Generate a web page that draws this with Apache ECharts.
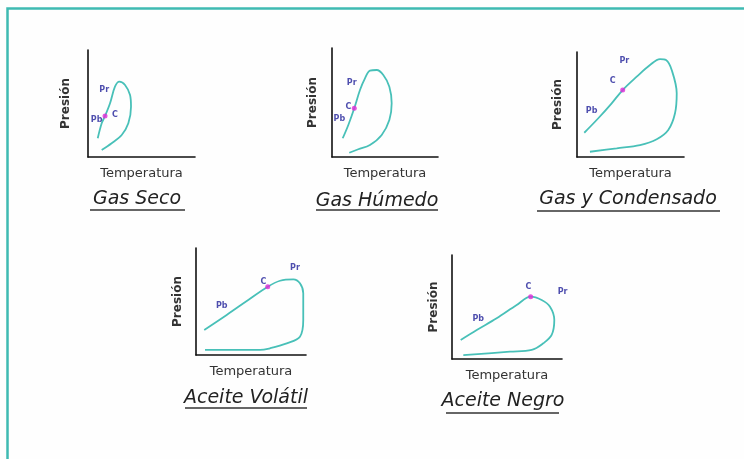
<!DOCTYPE html>
<html><head><meta charset="utf-8">
<script src="https://cdn.jsdelivr.net/npm/echarts@6/dist/echarts.min.js"></script>
<style>html,body{margin:0;padding:0;background:#fefefe}#c{width:744px;height:459px}</style>
</head><body><div id="c"></div>
<script>
// ---- data (envelope curves in 0-100 temperature / pressure units) ----
const gasSecoCurve = [[9.1,17.5],[12.8,31.5],[15.9,38.3],[20.6,50.2],[25.2,65.7],[29.3,70.4],[34.6,67.3],[39.3,57.9],[40.2,47.0],[37.7,31.5],[31.5,20.6],[22.1,12.8],[12.8,6.5]];
const gasSecoC = [15.9,38.3];
const gasSecoLabels = [['Pr',15.2,62.6],['Pb',8.1,34.6],['C',25.2,39.3]];

const gasHumedoCurve = [[10.1,17.2],[15.4,29.4],[21.0,44.7],[26.4,61.5],[31.1,72.2],[35.8,79.2],[42.2,79.8],[48.4,75.2],[54.1,64.5],[56.3,49.3],[54.1,33.9],[46.9,20.2],[35.8,11.0],[24.8,7.1],[16.3,3.9]];
const gasHumedoC = [21.0,44.7];
const gasHumedoLabels = [['Pr',18.6,67.6],['C',15.4,46.1],['Pb',6.9,34.6]];

const gasCondCurve = [[6.8,23.1],[19.9,36.9],[32.4,51.1],[42.7,63.8],[55.8,76.5],[68.2,87.6],[77.6,93.3],[83.2,92.4],[88.5,82.9],[93.2,60.7],[91.6,41.6],[85.3,25.7],[74.5,16.9],[58.9,11.4],[37.1,8.3],[12.1,5.0]];
const gasCondC = [42.7,63.8];
const gasCondLabels = [['Pr',44.2,91.7],['C',33.4,72.7],['Pb',13.7,43.8]];

const aceiteVolCurve = [[7.5,23.4],[27.9,37.4],[47.5,51.4],[65.2,63.8],[76.4,69.4],[88.5,70.7],[94.5,67.0],[97.5,57.7],[97.5,32.7],[94.5,17.1],[82.5,10.9],[67.3,6.3],[58.2,4.7],[8.2,4.7]];
const aceiteVolC = [65.2,63.8];
const aceiteVolLabels = [['Pr',90,81],['C',61.2,68.5],['Pb',23.4,45.8]];

const aceiteNegCurve = [[7.9,18.3],[22.5,27.9],[40.6,39.1],[58.8,51.9],[71.5,59.9],[81.5,56.7],[89.1,50.3],[93.0,37.5],[90.6,23.1],[83.0,15.1],[72.5,8.7],[52.7,7.0],[10.3,3.8]];
const aceiteNegC = [71.5,59.9];
const aceiteNegLabels = [['Pr',100.6,64.7],['C',69.4,68.9],['Pb',23.9,38.2]];

const captions = ['Gas Seco','Gas Húmedo','Gas y Condensado','Aceite Volátil','Aceite Negro'];
const xTitle = 'Temperatura';
const yTitle = 'Presión';

// ---- layout ----
const panels = [
  {curve: gasSecoCurve, c: gasSecoC, labels: gasSecoLabels, grid:[88,50,107,107], yGap:16, cap:[137,199], ul:[90,185,210]},
  {curve: gasHumedoCurve, c: gasHumedoC, labels: gasHumedoLabels, grid:[332,48,106,109], yGap:13, cap:[377,201], ul:[316,438,210]},
  {curve: gasCondCurve, c: gasCondC, labels: gasCondLabels, grid:[577,52,107,105], yGap:13, cap:[628,199], ul:[537,720,211]},
  {curve: aceiteVolCurve, c: aceiteVolC, labels: aceiteVolLabels, grid:[196,248,110,107], yGap:12, cap:[246,398], ul:[185,307,408]},
  {curve: aceiteNegCurve, c: aceiteNegC, labels: aceiteNegLabels, grid:[452,255,110,104], yGap:12, cap:[503,401], ul:[446,559,413]}
];

const TEAL = '#48c0b8';
const grids = [], xAxes = [], yAxes = [], series = [], graphics = [];
graphics.push({type:'rect', z:0, shape:{x:7.5,y:8.5,width:800,height:500}, style:{fill:'none', stroke:'#3fbab2', lineWidth:2.5}});

panels.forEach((p, i) => {
  grids.push({left:p.grid[0], top:p.grid[1], width:p.grid[2], height:p.grid[3], containLabel:false, outerBoundsMode:'none'});
  const axisCommon = {type:'value', min:0, max:100, gridIndex:i, axisTick:{show:false}, axisLabel:{show:false}, splitLine:{show:false},
    axisLine:{show:true, onZero:false, lineStyle:{color:'#111', width:1.6}}, nameLocation:'middle'};
  xAxes.push(Object.assign({}, axisCommon, {name:xTitle, nameGap:10,
    nameTextStyle:{fontFamily:'DejaVu Sans', fontSize:13, color:'#333'}}));
  yAxes.push(Object.assign({}, axisCommon, {name:yTitle, nameGap:p.yGap,
    nameTextStyle:{fontFamily:'DejaVu Sans', fontSize:12, fontWeight:'bold', color:'#333'}}));
  series.push({type:'line', xAxisIndex:i, yAxisIndex:i, data:p.curve, smooth:0.35, showSymbol:false, silent:true,
    lineStyle:{color:TEAL, width:1.8}, z:2});
  series.push({type:'scatter', xAxisIndex:i, yAxisIndex:i, data:[p.c], symbolSize:5, itemStyle:{color:'#e02ad8'}, z:3});
  series.push({type:'scatter', xAxisIndex:i, yAxisIndex:i, clip:false, symbolSize:1,
    data:p.labels.map(l => ({name:l[0], value:[l[1], l[2]]})),
    itemStyle:{color:'rgba(0,0,0,0)'},
    label:{show:true, position:'inside', formatter:'{b}', color:'#22229a', fontFamily:'DejaVu Sans', fontSize:8, fontWeight:'bold'}, z:4});
  graphics.push({type:'text', x:p.cap[0], y:p.cap[1], z:5,
    style:{text:captions[i], align:'center', verticalAlign:'middle', font:'italic 19px "DejaVu Sans"', fill:'#222'}});
  graphics.push({type:'line', z:5, shape:{x1:p.ul[0], y1:p.ul[2], x2:p.ul[1], y2:p.ul[2]}, style:{stroke:'#333', lineWidth:1.3}});
});

const chart = echarts.init(document.getElementById('c'), null, {renderer:'canvas'});
chart.setOption({animation:false, backgroundColor:'#fefefe', grid:grids, xAxis:xAxes, yAxis:yAxes, series:series, graphic:graphics});
</script></body></html>
